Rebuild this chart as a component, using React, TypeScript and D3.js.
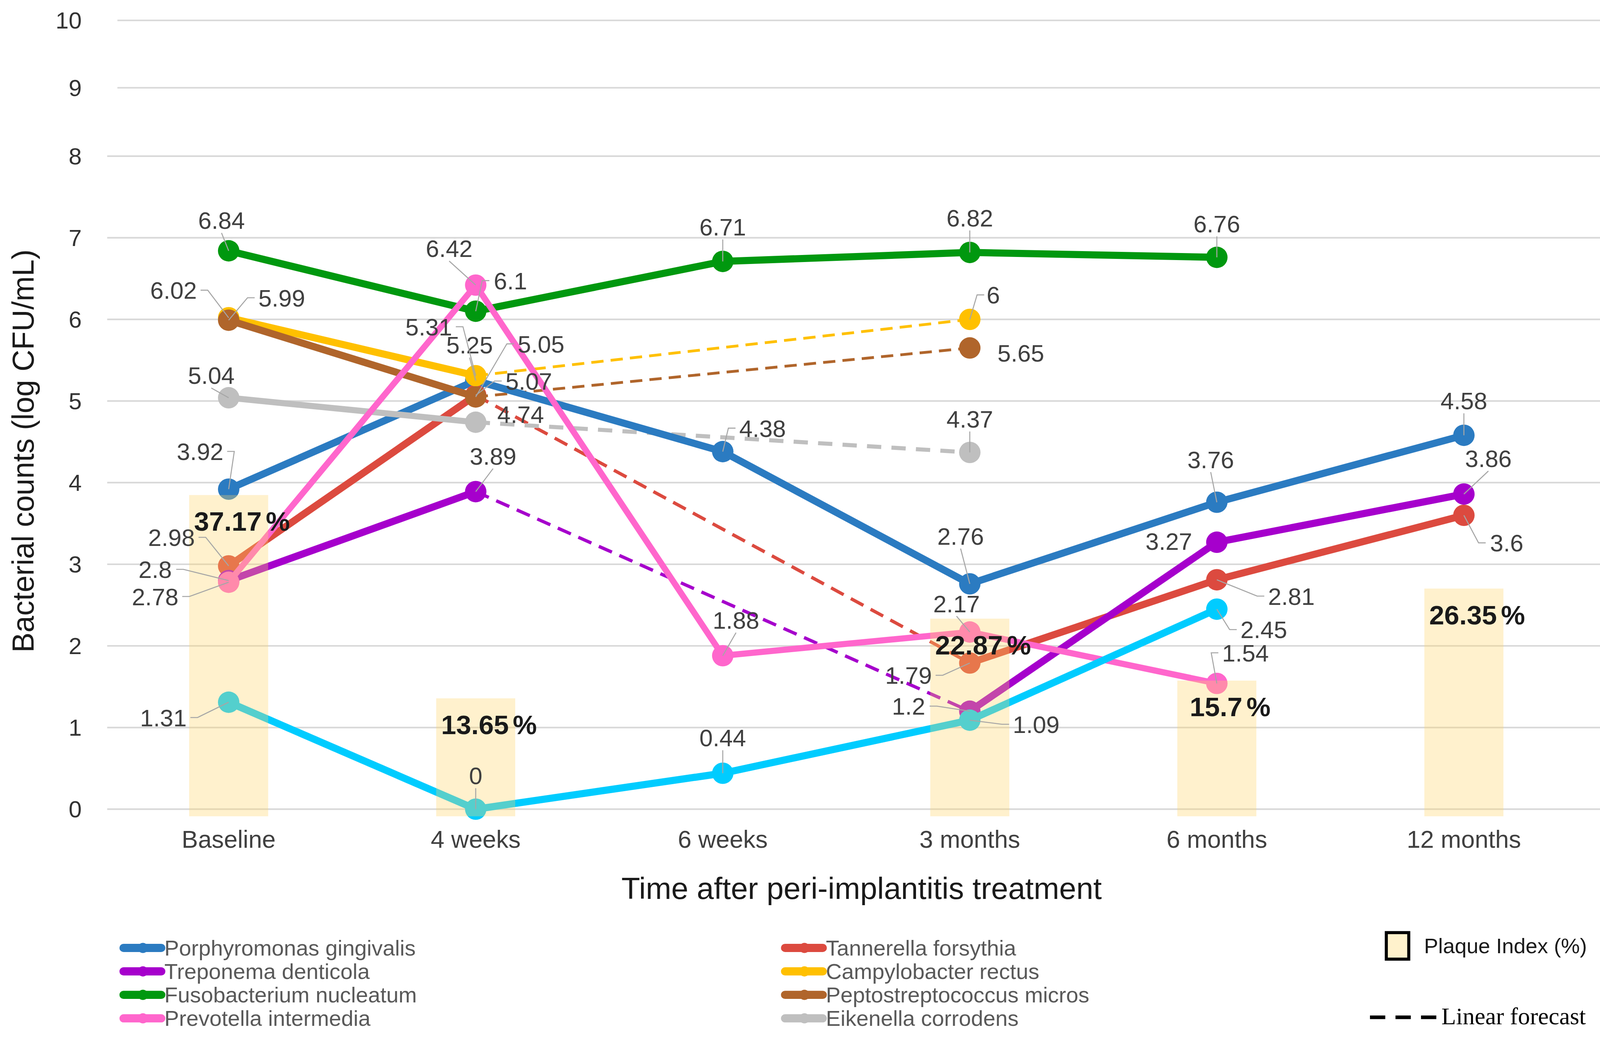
import * as d3 from 'd3'

// time points along the x axis
const categories = ['Baseline', '4 weeks', '6 weeks', '3 months', '6 months', '12 months']
const yTicks = [0, 1, 2, 3, 4, 5, 6, 7, 8, 9, 10]

// bacterial counts (log CFU/mL), null = not measured
const pGingivalis = [3.92, 5.25, 4.38, 2.76, 3.76, 4.58]
const tForsythia = [2.98, 5.07, null, 1.79, 2.81, 3.6]
const tDenticola = [2.8, 3.89, null, 1.2, 3.27, 3.86]
const fNucleatum = [6.84, 6.1, 6.71, 6.82, 6.76, null]
const cRectus = [6.02, 5.31, null, 6, null, null]
const pMicros = [5.99, 5.05, null, 5.65, null, null]
const pIntermedia = [2.78, 6.42, 1.88, 2.17, 1.54, null]
const eCorrodens = [5.04, 4.74, null, 4.37, null, null]
const cyanSeries = [1.31, 0, 0.44, 1.09, 2.45, null]

// plaque index (%)
const plaqueIndex = [37.17, 13.65, null, 22.87, 15.7, 26.35]

// label offsets (dx, dy) from each point, in view units
const offBlue = [[-28, -37], [-6, -35], [39, -23], [-9, -47], [-6, -42], [0, -34]]
const offRed = [[-56, -28], [52, -14], null, [-60, 12], [73, 16], [42, 27]]
const offPurple = [[-72, -11], [17, -35], null, [-60, -5], [-47, -1], [24, -35]]
const offGreen = [[-7, -30], [34, -30], [0, -34], [0, -34], [0, -33], null]
const offYellow = [[-54, -27], [-46, -48], null, [23, -24], null, null]
const offBrown = [[52, -22], [64, -52], null, [50, 5], null, null]
const offPink = [[-72, 14], [-26, -36], [13, -35], [-13, -28], [28, -30], null]
const offGrey = [[-17, -22], [44, -8], null, [0, -33], null, null]
const offCyan = [[-64, 15], [0, -33], [0, -35], [65, 4], [46, 20], null]

type Off = number[] | null
interface Series {
  name: string | null
  values: (number | null)[]
  color: string
  offsets: Off[]
  width: number
  dash?: { w: number; d: string }
  legend?: [number, number]
}

const series: Series[] = [
  { name: 'Porphyromonas gingivalis', values: pGingivalis, color: '#2B7BC1', offsets: offBlue, width: 7, legend: [0, 0] },
  { name: 'Tannerella forsythia', values: tForsythia, color: '#DC4A3F', offsets: offRed, width: 7, dash: { w: 3.2, d: '14 8' }, legend: [1, 0] },
  { name: 'Treponema denticola', values: tDenticola, color: '#A600CC', offsets: offPurple, width: 7, dash: { w: 3.2, d: '14 8' }, legend: [0, 1] },
  { name: 'Fusobacterium nucleatum', values: fNucleatum, color: '#00980F', offsets: offGreen, width: 7, legend: [0, 2] },
  { name: 'Campylobacter rectus', values: cRectus, color: '#FFC000', offsets: offYellow, width: 7, dash: { w: 2.7, d: '12 7' }, legend: [1, 1] },
  { name: 'Peptostreptococcus micros', values: pMicros, color: '#B0652B', offsets: offBrown, width: 7, dash: { w: 2.7, d: '12 7' }, legend: [1, 2] },
  { name: 'Eikenella corrodens', values: eCorrodens, color: '#BFBFBF', offsets: offGrey, width: 6, dash: { w: 4, d: '14 10' }, legend: [1, 3] },
  { name: 'Prevotella intermedia', values: pIntermedia, color: '#FF66CC', offsets: offPink, width: 6, legend: [0, 3] },
  { name: null, values: cyanSeries, color: '#00CCFF', offsets: offCyan, width: 7 },
]

const W = 1588
const H = 1031
const R = 10.5
const LABEL_FS = 23.5
const SANS = 'Arial, "Liberation Sans", Helvetica, sans-serif'

const x = d3.scaleBand<string>().domain(categories).range([103, 1555])
const cx = (i: number) => x(categories[i])! + x.bandwidth() / 2
const y = d3.scaleLinear().domain([0, 8, 9, 10]).range([793, 153, 86, 20])
const yBar = d3.scaleLinear().domain([0, 100]).range([800, -47])
const barW = x.bandwidth() * 0.32

function leaderPath(px: number, py: number, lx: number, ly: number, text: string) {
  const w = text.length * LABEL_FS * 0.5
  const h = LABEL_FS * 0.72
  const dx = px - lx
  const dy = py - ly
  let pts: [number, number][]
  if (Math.abs(dx) > w / 2 + 4) {
    const s = Math.sign(dx)
    const sx = lx + s * (w / 2 + 3)
    pts = [[sx, ly], [sx + s * 7, ly], [px, py]]
  } else {
    const s = Math.sign(dy)
    pts = [[lx, ly + s * (h / 2 + 4)], [px, py]]
  }
  const [sx, sy] = pts[pts.length - 2]
  if (Math.hypot(px - sx, py - sy) < R + 7) return null
  return d3.line()(pts)
}

function forecastSegments(vals: (number | null)[]) {
  const segs: [number, number, number, number][] = []
  let last = -1
  vals.forEach((v, i) => {
    if (v == null) return
    if (last >= 0 && i - last > 1) segs.push([cx(last), y(vals[last]!), cx(i), y(v)])
    last = i
  })
  return segs
}

export default function App() {
  const line = d3.line<number | null>()
    .defined(d => d != null)
    .x((_, i) => cx(i))
    .y(d => y(d as number))

  return (
    <svg
      width={4150}
      height={2694}
      viewBox={`0 0 ${W} ${H}`}
      preserveAspectRatio="none"
      style={{ position: 'absolute', left: 0, top: 0, background: '#fff' }}
    >
      <rect width={W} height={H} fill="#fff" />

      {/* gridlines and y ticks */}
      {yTicks.map(t => (
        <g key={t}>
          <line x1={t > 8 ? 115 : 105} x2={t > 8 ? W : 1574} y1={y(t)} y2={y(t)} stroke="#D9D9D9" strokeWidth={1.6} />
          <text x={80} y={y(t) + 8} textAnchor="end" fontFamily={SANS} fontSize={23} fill="#333">{t}</text>
        </g>
      ))}

      {/* x tick labels */}
      {categories.map((c, i) => (
        <text key={c} x={cx(i)} y={831} textAnchor="middle" fontFamily={SANS} fontSize={24} fill="#404040">{c}</text>
      ))}

      {/* axis titles */}
      <text transform="translate(33,442) rotate(-90)" textAnchor="middle" fontFamily={SANS} fontSize={29.5} fill="#1A1A1A">Bacterial counts (log CFU/mL)</text>
      <text x={844} y={881} textAnchor="middle" fontFamily={SANS} fontSize={30} fill="#1A1A1A">Time after peri-implantitis treatment</text>

      {/* forecast dashes */}
      {series.map(s => s.dash && forecastSegments(s.values).map((g, k) => (
        <line key={s.color + k} x1={g[0]} y1={g[1]} x2={g[2]} y2={g[3]} stroke={s.color} strokeWidth={s.dash!.w} strokeDasharray={s.dash!.d} />
      )))}

      {/* series lines and markers */}
      {series.map(s => (
        <g key={s.color}>
          <path d={line(s.values) ?? ''} fill="none" stroke={s.color} strokeWidth={s.width} strokeLinejoin="round" />
          {s.values.map((v, i) => v == null ? null : (
            <circle key={i} cx={cx(i)} cy={y(v)} r={R} fill={s.color} />
          ))}
        </g>
      ))}

      {/* plaque index bars */}
      {plaqueIndex.map((v, i) => v == null ? null : (
        <rect key={i} x={cx(i) - barW / 2} y={yBar(v)} width={barW} height={yBar(0) - yBar(v)} fill="rgb(255,214,102)" fillOpacity={0.33} />
      ))}

      {/* leaders and data labels */}
      {series.map(s => s.values.map((v, i) => {
        const o = s.offsets[i]
        if (v == null || !o) return null
        const px = cx(i), py = y(v)
        const lx = px + o[0], ly = py + o[1]
        const txt = String(v)
        const d = leaderPath(px, py, lx, ly, txt)
        return (
          <g key={s.color + i}>
            {d && <path d={d} fill="none" stroke="#A6A6A6" strokeWidth={1} />}
            <text x={lx} y={ly + 8.5} textAnchor="middle" fontFamily={SANS} fontSize={LABEL_FS} fill="#404040">{txt}</text>
          </g>
        )
      }))}

      {/* plaque index labels */}
      {plaqueIndex.map((v, i) => v == null ? null : (
        <text key={i} x={cx(i) + 13} y={yBar(v) + 35} textAnchor="middle" fontFamily={SANS} fontSize={26.5} fontWeight="bold" fill="#1A1A1A">
          {v}<tspan dx={4}>%</tspan>
        </text>
      ))}

      {/* legend */}
      {series.filter(s => s.legend).map(s => {
        const [col, row] = s.legend!
        const x0 = col === 0 ? 118 : 766
        const yy = 929 + row * 23
        return (
          <g key={s.name!}>
            <line x1={x0 + 3} x2={x0 + 40} y1={yy} y2={yy} stroke={s.color} strokeWidth={8} strokeLinecap="round" />
            <circle cx={x0 + 22} cy={yy} r={5} fill={s.color} />
            <text x={x0 + 43} y={yy + 7.5} fontFamily={SANS} fontSize={21.5} fill="#595959">{s.name}</text>
          </g>
        )
      })}
      <rect x={1358} y={914} width={22} height={26} fill="#FFF2CC" stroke="#000" strokeWidth={3} />
      <text x={1395} y={934} fontFamily={SANS} fontSize={20.8} fill="#1A1A1A">Plaque Index (%)</text>
      <line x1={1342} x2={1408} y1={997} y2={997} stroke="#000" strokeWidth={3.5} strokeDasharray="15 10" />
      <text x={1412} y={1004} fontFamily={'"Liberation Serif", "Times New Roman", serif'} fontSize={23.5} fill="#000">Linear forecast</text>
    </svg>
  )
}
